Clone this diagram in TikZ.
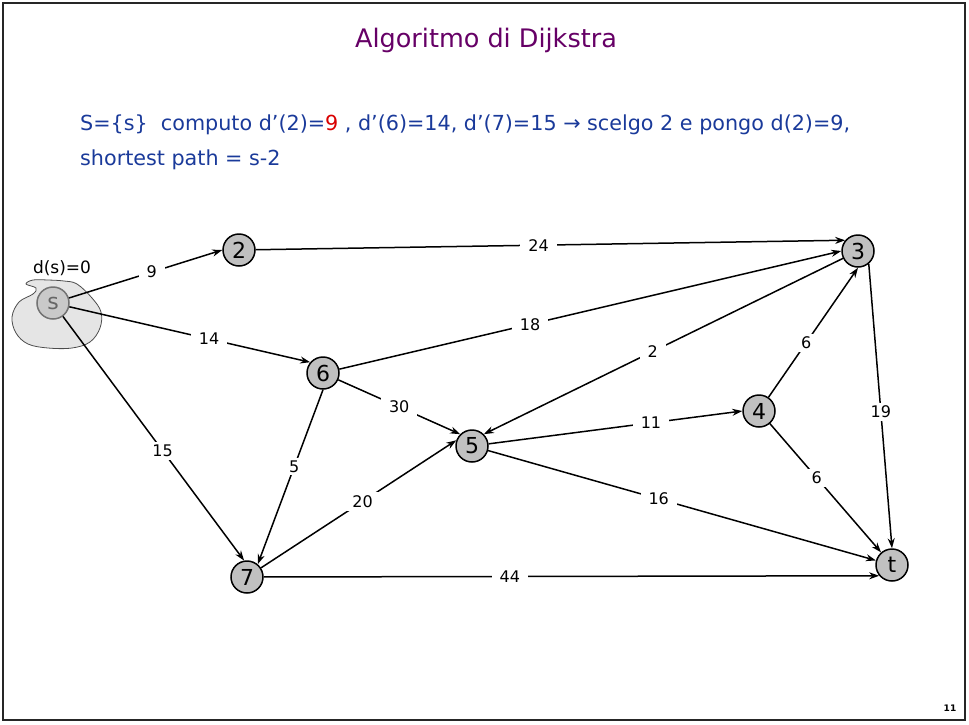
\documentclass[tikz,border=0pt]{standalone}
\usepackage{fontspec}
\setmainfont{DejaVu Sans}
\usepackage{xcolor}
\usetikzlibrary{positioning, arrows.meta}

\definecolor{titlecol}{HTML}{660066}
\definecolor{textcol}{HTML}{1A3A9A}
\definecolor{nodecol}{HTML}{C0C0C0}

\begin{document}
\begin{tikzpicture}[
				x=1pt, y=-1pt,
				vertex/.style={circle, draw=black, fill=nodecol, line width=1.5pt, minimum size=32pt, inner sep=0pt, font=\fontsize{22}{22}\selectfont},
				source/.style={vertex, draw=black!55, fill=nodecol!85, text=black!60},
				weight/.style={fill=white, inner xsep=8pt, inner ysep=3pt, font=\fontsize{16}{16}\selectfont},
				arrow/.style={-{Stealth[length=10pt, width=7pt]}, line width=1.5pt}
				]
				\useasboundingbox (0,0) rectangle (969,724);
				\draw[line width=2.2pt, black!85] (3,3) rectangle (965,720);
				
				% Text
				\node (title) at (486,40) [text=titlecol, font=\fontsize{25.5}{25.5}\selectfont] {Algoritmo di Dijkstra};
				\node (line1) at (80,125) [anchor=west, text=textcol, font=\fontsize{20.7}{20.7}\selectfont, inner sep=0pt]
				{S=\{s\}\ \ computo d’(2)=\textcolor{red!85!black}{9} , d’(6)=14, d’(7)=15 → scelgo 2 e pongo d(2)=9,};
				\node (line2) at (80,160) [anchor=west, text=textcol, font=\fontsize{20.7}{20.7}\selectfont, inner sep=0pt] {shortest path = s-2};
				\node (page) at (950,708) [font=\rmfamily\bfseries\fontsize{9}{9}\selectfont] {11};
				
				% Cloud
				\draw[fill=black!10, draw=black!70, thick] plot[smooth cycle, tension=0.6] coordinates {
					(26,284) (33,280) (48,280) (64,281) (77,284) (92,298) (101,312) (100,328) (90,342)
					(72,348) (48,348) (28,344) (16,333) (12,317) (19,302) (33,294) (36,288)};
				\node (dist) at (62,268) [font=\fontsize{17}{17}\selectfont] {d(s)=0};
				
				% Nodes
				\node (s) at (53,303) [source] {s};
				\node (n2) at (239,250) [vertex] {2};
				\node (n3) at (858,251) [vertex] {3};
				\node (n6) at (323,373) [vertex] {6};
				\node (n4) at (759,411) [vertex] {4};
				\node (n5) at (472,446) [vertex] {5};
				\node (n7) at (247,577) [vertex] {7};
				\node (t) at (892,565) [vertex] {t};
				
				% Arrows
				\draw [arrow] (s) -- (n2.west) node[weight, pos=0.54] {9};
				\draw [arrow] (s) -- (n6.140) node[weight, pos=0.58] {14};
				\draw [arrow] (s) -- (n7.100) node[weight, pos=0.55] {15};
				\draw [arrow] (n2) -- (n3.140) node[weight, pos=0.48] {24};
				\draw [arrow] (n6) -- (n3.west) node[weight, pos=0.38] {18};
				\draw [arrow] (n3) -- (n5.45) node[weight, pos=0.53] {2};
				\draw [arrow] (n4) -- (n3.south) node[weight, pos=0.42] {6};
				\draw [arrow] (n3.-50) -- (t.north) node[weight, pos=0.52] {19};
				\draw [arrow] (n6) -- (n5.135) node[weight, pos=0.5] {30};
				\draw [arrow] (n6.south) -- (n7.50) node[weight, pos=0.44] {5};
				\draw [arrow] (n5) -- (n4.west) node[weight, pos=0.64] {11};
				\draw [arrow] (n5) -- (t) node[weight, pos=0.44] {16};
				\draw [arrow] (n4) -- (t) node[weight, pos=0.42] {6};
				\draw [arrow] (n7) -- (n5.160) node[weight, pos=0.52] {20};
				\draw [arrow] (n7) -- (t.220) node[weight, pos=0.4] {44};
			\end{tikzpicture}
\end{document}
